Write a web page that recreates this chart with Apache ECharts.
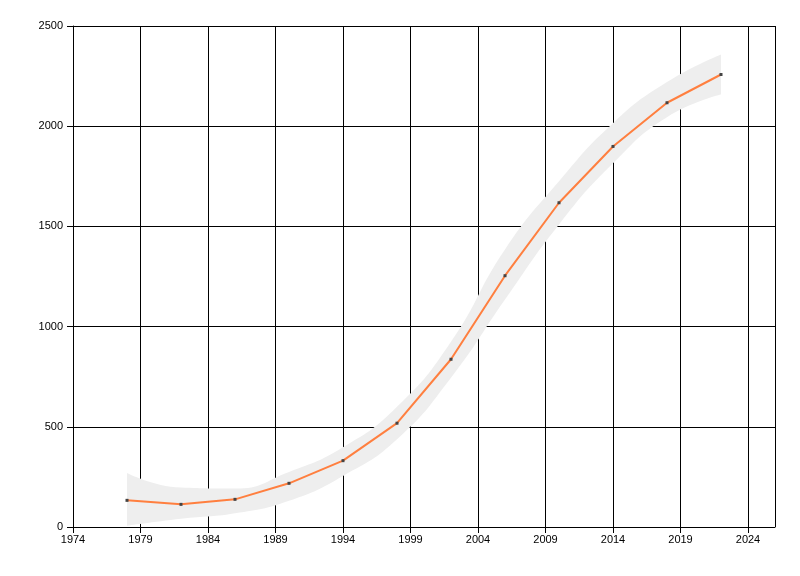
<!DOCTYPE html>
<html>
<head>
<meta charset="utf-8">
<script src="https://cdn.jsdelivr.net/npm/echarts@6/dist/echarts.min.js"></script>
<style>html,body{margin:0;padding:0;background:#fff}#c{width:800px;height:576px}</style>
</head>
<body>
<div id="c"></div>
<script>
var years = [1978, 1982, 1986, 1990, 1994, 1998, 2002, 2006, 2010, 2014, 2018, 2022];
var values = [133, 113, 138, 218, 331, 518, 837, 1254, 1618, 1899, 2117, 2258];
var bandLower = [6, 41, 68, 131, 255, 438, 745, 1135, 1510, 1815, 2045, 2158];
var bandUpper = [270, 197, 192, 275, 398, 600, 925, 1385, 1725, 2015, 2220, 2358];

var chart = echarts.init(document.getElementById('c'));
var font = 'Liberation Sans';
function plain(v) { return String(v); }
chart.setOption({
  animation: false,
  backgroundColor: '#fff',
  grid: {left: 73, right: 25, top: 26, bottom: 49},
  xAxis: {
    type: 'value', min: 1974, max: 2026, interval: 5,
    axisLine: {show: true, lineStyle: {color: '#000', width: 1}},
    axisTick: {show: true, length: 6, lineStyle: {color: '#000'}},
    axisLabel: {color: '#000', fontFamily: font, fontSize: 11, margin: 7, showMaxLabel: false, formatter: plain},
    splitLine: {show: true, lineStyle: {color: '#000', width: 1}}
  },
  yAxis: {
    type: 'value', min: 0, max: 2500, interval: 500,
    axisLine: {show: true, lineStyle: {color: '#000', width: 1}},
    axisTick: {show: true, length: 6, lineStyle: {color: '#000'}},
    axisLabel: {color: '#000', fontFamily: font, fontSize: 11, margin: 10, formatter: plain},
    splitLine: {show: true, lineStyle: {color: '#000', width: 1}}
  },
  series: [
    {
      type: 'line', stack: 'band', smooth: 0.5, symbol: 'none',
      dimensions: ['v', 'yr'], encode: {x: 1, y: 0},
      data: years.map(function (y, i) { return [bandLower[i], y]; }),
      lineStyle: {opacity: 0}, silent: true
    },
    {
      type: 'line', stack: 'band', smooth: 0.5, symbol: 'none',
      dimensions: ['v', 'yr'], encode: {x: 1, y: 0},
      data: years.map(function (y, i) { return [bandUpper[i] - bandLower[i], y]; }),
      lineStyle: {opacity: 0}, areaStyle: {color: '#eeeeee', opacity: 1}, silent: true
    },
    {
      type: 'line', smooth: false, symbol: 'rect', symbolSize: 3,
      data: years.map(function (y, i) { return [y, values[i]]; }),
      lineStyle: {color: '#ff7f3f', width: 2},
      itemStyle: {color: '#444'}
    }
  ]
});
</script>
</body>
</html>
